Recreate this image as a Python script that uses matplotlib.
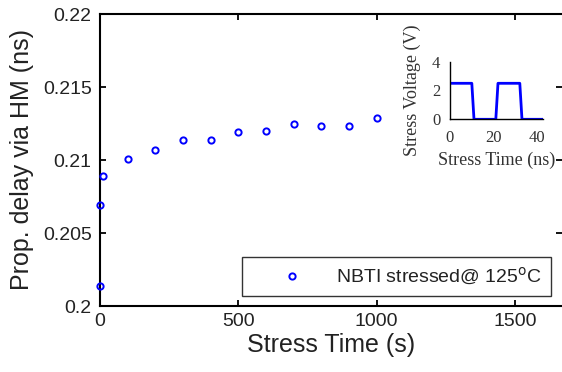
import numpy as np
import matplotlib
matplotlib.use("Agg")
import matplotlib.pyplot as plt

# main data: stress time (s) vs propagation delay (ns)
stress_time = [0, 1, 10, 100, 200, 300, 400, 500, 600, 700, 800, 900, 1000]
prop_delay = [0.2014, 0.2069, 0.2089, 0.2101, 0.2107, 0.2114, 0.2114,
              0.2119, 0.2120, 0.2125, 0.2123, 0.2123, 0.2129]
xticks_main = [0, 500, 1000, 1500]
yticks_main = [0.2, 0.205, 0.21, 0.215, 0.22]
yticklabels_main = ['0.2', '0.205', '0.21', '0.215', '0.22']

# inset: stress waveform
pulse_t = [0, 10, 11, 21, 22, 32, 33, 42.5]
pulse_v = [2.5, 2.5, 0, 0, 2.5, 2.5, 0, 0]

W, H = 562, 372
fig = plt.figure(figsize=(W / 100, H / 100), dpi=100)
plt.rcParams['font.family'] = ['Liberation Sans', 'DejaVu Sans']

ax = fig.add_axes([100 / W, (H - 306) / H, 462 / W, 292 / H])
ax.plot(stress_time, prop_delay, 'o', color='blue', markerfacecolor='none',
        markersize=4.5, markeredgewidth=1.4, label=r'NBTI stressed@ 125$^{\mathrm{o}}$C',
        clip_on=False, zorder=5)
ax.set_xlim(0, 1670)
ax.set_ylim(0.2, 0.22)
ax.set_xticks(xticks_main)
ax.set_yticks(yticks_main)
ax.set_yticklabels(yticklabels_main)
ax.tick_params(direction='in', length=4, width=1.3, labelsize=14,
               top=True, right=True, color='black', labelcolor='#222222')
ax.tick_params(axis='y', pad=6)
ax.tick_params(axis='x', pad=5)
for s in ['left', 'bottom', 'top']:
    ax.spines[s].set_linewidth(1.5)
ax.spines['right'].set_visible(False)
ax.set_xlabel('Stress Time (s)', fontsize=18, labelpad=2, color='#222222')
ax.set_ylabel('Prop. delay via HM (ns)', fontsize=18, labelpad=6, color='#222222')

leg = ax.legend(loc='lower left', bbox_to_anchor=(142 / 462, 10 / 292),
                borderaxespad=0, fontsize=14, frameon=True, fancybox=False,
                borderpad=0.46, handlelength=4.2, handletextpad=0.2,
                numpoints=1, framealpha=1)
leg.get_frame().set_edgecolor('#333333')
leg.get_frame().set_linewidth(1.0)
for t in leg.get_texts():
    t.set_color('#222222')

# inset
axi = fig.add_axes([450 / W, (H - 119.3) / H, 92.7 / W, 57.6 / H])
axi.plot(pulse_t, pulse_v, color='blue', linewidth=2)
axi.set_xlim(0, 42.5)
axi.set_ylim(0, 4)
axi.set_xticks([0, 20, 40])
axi.set_yticks([0, 2, 4])
axi.spines['top'].set_visible(False)
axi.spines['right'].set_visible(False)
axi.spines['left'].set_linewidth(1.0)
axi.spines['bottom'].set_linewidth(1.0)
axi.tick_params(length=0, labelsize=12, color='#333333', labelcolor='#333333')
axi.tick_params(axis='x', pad=8)
axi.tick_params(axis='y', pad=7)
for lab in axi.get_xticklabels() + axi.get_yticklabels():
    lab.set_family('Liberation Serif')
axi.set_xlabel('Stress Time (ns)', fontsize=13, family='Liberation Serif',
               labelpad=4, color='#333333')
axi.set_ylabel('Stress Voltage (V)', fontsize=13, family='Liberation Serif',
               labelpad=8, color='#333333')

fig.savefig('out.png', dpi=100)
